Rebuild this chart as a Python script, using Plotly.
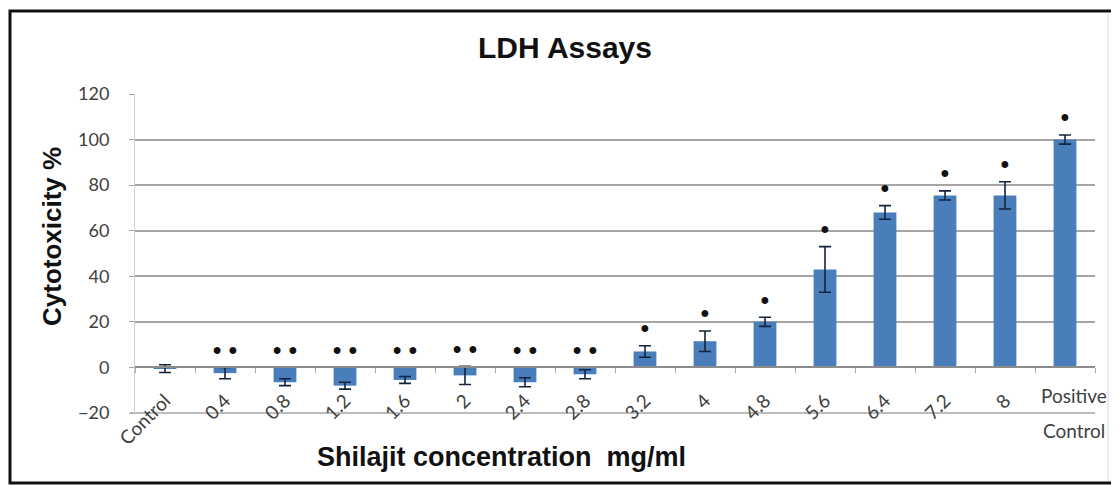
import numpy as np
import plotly.graph_objects as go

categories = ["Control", "0.4", "0.8", "1.2", "1.6", "2", "2.4", "2.8", "3.2",
              "4", "4.8", "5.6", "6.4", "7.2", "8", "Positive Control"]
tick_labels = ["Control", "0.4", "0.8", "1.2", "1.6", "2", "2.4", "2.8", "3.2",
               "4", "4.8", "5.6", "6.4", "7.2", "8", "Positive<br>Control"]
values = [-0.5, -2.5, -6.5, -8, -5.5, -3.5, -6.5, -3, 7, 11.5, 20, 43, 68, 75.5, 75.5, 100]
errors = [1.7, 2.5, 1.5, 1.5, 1.5, 4, 2, 2, 2.5, 4.5, 2, 10, 3, 2, 6, 2]
significance = ["", "**", "**", "**", "**", "**", "**", "**", "*", "*", "*", "*", "*", "*", "*", "*"]

# page geometry (the browser body adds an 8px margin)
BODY = 8
PAGE_W, PAGE_H = 1119, 485
PL, PR, PT, PB = 135, 1095, 94, 413          # plot area in page pixels
W, H = PAGE_W - BODY, PAGE_H - BODY
L, T = PL - BODY, PT - BODY
R, B = W - (PR - BODY), H - (PB - BODY)
pw, ph = PR - PL, PB - PT
ymin, ymax = -20, 120


def px_x(px):
    return (px - PL) / pw


def px_y(py):
    return (PB - py) / ph


n = len(categories)
idx = list(np.arange(n))
bar_color = "#4a7ebb"
label_font = dict(family="Lato", size=19, color="#404040")

fig = go.Figure()
fig.add_trace(go.Bar(
    x=categories, y=values, width=0.38,
    marker=dict(color=bar_color, line=dict(width=0)),
    error_y=dict(type="data", array=errors, visible=True, color="#14233f",
                 thickness=1.6, width=6),
    showlegend=False, hoverinfo="x+y",
))

star_y = [max(v + e, 0) + 6.5 for v, e in zip(values, errors)]
star_text = [s.replace("*", "•").replace("••", "• •") for s in significance]
fig.add_trace(go.Scatter(
    x=idx, y=star_y, xaxis="x2", mode="text", text=star_text,
    textfont=dict(family="Liberation Sans", size=25, color="#111111"),
    textposition="middle center", showlegend=False, hoverinfo="skip",
))

zero_pos = (0 - ymin) / (ymax - ymin)

fig.update_layout(
    width=W, height=H,
    margin=dict(l=L, r=R, t=T, b=B, pad=0),
    paper_bgcolor="white", plot_bgcolor="white",
    xaxis=dict(
        type="category", categoryorder="array", categoryarray=categories,
        range=[-0.5, n - 0.5], anchor="free", position=zero_pos,
        showline=True, linecolor="#8c8c8c", linewidth=1.5,
        ticks="outside", tickson="boundaries", ticklen=5, tickcolor="#a6a6a6",
        showticklabels=False, showgrid=False, zeroline=False,
    ),
    xaxis2=dict(
        overlaying="x", anchor="free", position=0.088,
        range=[-0.5, n - 0.5], tickmode="array",
        tickvals=idx[:-1], ticktext=tick_labels[:-1],
        tickangle=-45, showline=False, ticks="", showgrid=False, zeroline=False,
        tickfont=label_font,
    ),
    yaxis=dict(
        range=[ymin, ymax], dtick=20, tick0=0,
        showgrid=True, gridcolor="#a6a6a6", gridwidth=1.5,
        showline=True, linecolor="#d0d0d0", linewidth=1,
        ticks="outside", ticklen=5, tickcolor="#a6a6a6",
        ticklabelstandoff=16, zeroline=False,
        tickfont=dict(family="Lato", size=18, color="#404040"),
    ),
    font=dict(family="Liberation Sans"),
)

last_lines = tick_labels[-1].split("<br>")
for line, yshift in zip(last_lines, [18, -17]):
    fig.add_annotation(
        xref="x2", yref="y", x=idx[-1], y=ymin, text=line,
        showarrow=False, xanchor="center", yanchor="middle",
        xshift=9, yshift=yshift, font=label_font,
    )

fig.add_annotation(
    xref="paper", yref="paper", x=px_x(565), y=px_y(48), text="<b>LDH Assays</b>",
    showarrow=False, xanchor="center", yanchor="middle",
    font=dict(family="Liberation Sans", size=30, color="#111111"),
)
fig.add_annotation(
    xref="paper", yref="paper", x=px_x(52), y=px_y(237), text="<b>Cytotoxicity %</b>",
    showarrow=False, textangle=-90, xanchor="center", yanchor="middle",
    font=dict(family="Liberation Sans", size=26, color="#111111"),
)
fig.add_annotation(
    xref="paper", yref="paper", x=px_x(501), y=px_y(457),
    text="<b>Shilajit concentration  mg/ml</b>",
    showarrow=False, xanchor="center", yanchor="middle",
    font=dict(family="Liberation Sans", size=27, color="#111111"),
)

# bottom border line of the plot area (-20 gridline)
fig.add_shape(type="line", xref="paper", yref="paper",
              x0=px_x(130), x1=1, y0=0, y1=0,
              line=dict(color="#a6a6a6", width=1.5), layer="below")
fig.add_shape(type="rect", xref="paper", yref="paper",
              x0=px_x(10), x1=px_x(1200), y0=px_y(483), y1=px_y(11),
              line=dict(color="#111111", width=3), layer="above")
fig.add_shape(type="line", xref="paper", yref="paper",
              x0=px_x(1108), x1=px_x(1108), y0=px_y(481), y1=px_y(14),
              line=dict(color="#d9d9d9", width=1), layer="above")

fig.write_html("out.html")
